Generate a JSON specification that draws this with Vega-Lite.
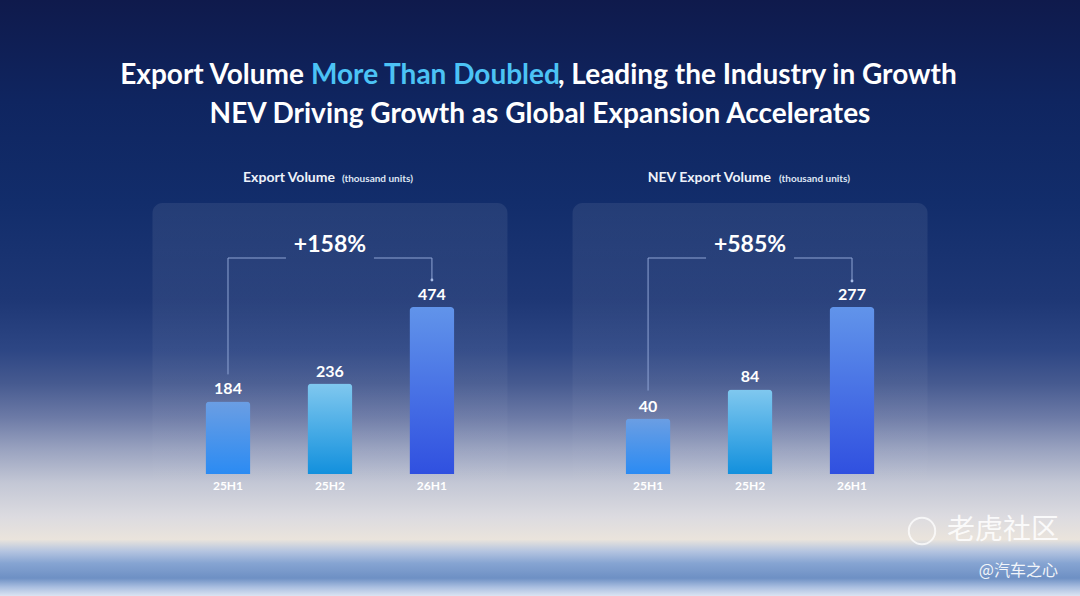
{
  "$schema": "https://vega.github.io/schema/vega-lite/v6.json",
  "width": 1080,
  "height": 596,
  "autosize": {"type": "none"},
  "padding": 0,
  "background": "#0f1a4c",
  "config": {
    "view": {"stroke": null},
    "font": "Lato",
    "text": {"font": "Lato"}
  },
  "datasets": {
    "volumes": [
      {"chart": "Export Volume", "period": "25H1", "value": 184, "growth": null},
      {"chart": "Export Volume", "period": "25H2", "value": 236, "growth": null},
      {"chart": "Export Volume", "period": "26H1", "value": 474, "growth": "+158%"},
      {"chart": "NEV Export Volume", "period": "25H1", "value": 40, "growth": null},
      {"chart": "NEV Export Volume", "period": "25H2", "value": 84, "growth": null},
      {"chart": "NEV Export Volume", "period": "26H1", "value": 277, "growth": "+585%"}
    ]
  },
  "layer": [
    {
      "data": {"values": [{}]},
      "mark": {
        "type": "rect",
        "fill": {
          "gradient": "linear", "x1": 0, "y1": 0, "x2": 0, "y2": 1,
          "stops": [
            {"offset": 0, "color": "#0f1a4c"},
            {"offset": 0.17, "color": "#0f2560"},
            {"offset": 0.34, "color": "#122d6b"},
            {"offset": 0.503, "color": "#1e3775"},
            {"offset": 0.587, "color": "#2d4684"},
            {"offset": 0.643, "color": "#465a90"},
            {"offset": 0.7, "color": "#6c7aa6"},
            {"offset": 0.755, "color": "#9aa3c0"},
            {"offset": 0.81, "color": "#c3c7d5"},
            {"offset": 0.867, "color": "#dcdbe0"},
            {"offset": 0.905, "color": "#eae4dc"},
            {"offset": 0.925, "color": "#b4c4e0"},
            {"offset": 0.945, "color": "#86a4d2"},
            {"offset": 0.97, "color": "#6e90c4"},
            {"offset": 0.985, "color": "#a9bee0"},
            {"offset": 1, "color": "#dbe4f2"}
          ]
        }
      },
      "encoding": {}
    },
    {
      "data": {"values": [{}]},
      "layer": [
        {
          "mark": {"type": "text", "text": "Export Volume", "align": "right", "baseline": "alphabetic", "x": {"expr": "width / 2"}, "dx": -236, "y": 84, "fontSize": 28, "fontWeight": "bold", "fill": "#ffffff"},
          "encoding": {}
        },
        {
          "mark": {"type": "text", "text": "More Than Doubled", "align": "left", "baseline": "alphabetic", "x": {"expr": "width / 2"}, "dx": -229, "y": 84, "fontSize": 28, "fontWeight": "bold", "fill": "#4cc3f5"},
          "encoding": {}
        },
        {
          "mark": {"type": "text", "text": ", Leading the Industry in Growth", "align": "left", "baseline": "alphabetic", "x": {"expr": "width / 2"}, "dx": 18, "y": 84, "fontSize": 28, "fontWeight": "bold", "fill": "#ffffff"},
          "encoding": {}
        },
        {
          "mark": {"type": "text", "text": "NEV Driving Growth as Global Expansion Accelerates", "align": "center", "baseline": "alphabetic", "x": {"expr": "width / 2"}, "y": 123, "fontSize": 28, "fontWeight": "bold", "fill": "#ffffff"},
          "encoding": {}
        }
      ]
    },
    {
      "data": {"name": "volumes"},
      "transform": [
        {"filter": "datum.chart === 'Export Volume'"},
        {"joinaggregate": [{"op": "max", "field": "value", "as": "peak"}]}
      ],
      "encoding": {
        "x": {
          "field": "chart", "type": "nominal", "axis": null,
          "scale": {"domain": ["Export Volume", "NEV Export Volume"], "paddingInner": 0.155, "paddingOuter": 0.363}
        }
      },
      "layer": [
        {
          "transform": [{"filter": "datum.period === '26H1'"}],
          "mark": {
            "type": "rect", "cornerRadius": 10, "yOffset": -104, "y2Offset": 30,
            "fill": {
              "gradient": "linear", "x1": 0, "y1": 0, "x2": 0, "y2": 1,
              "stops": [
                {"offset": 0, "color": "rgba(255,255,255,0.08)"},
                {"offset": 0.6, "color": "rgba(255,255,255,0.04)"},
                {"offset": 1, "color": "rgba(255,255,255,0)"}
              ]
            }
          },
          "encoding": {
            "y": {"field": "peak", "type": "quantitative", "axis": null, "scale": {"type": "pow", "exponent": 0.88, "zero": true, "nice": false, "range": [474, 307]}},
            "y2": {"datum": 0}
          }
        },
        {
          "mark": {"type": "bar", "cornerRadiusTopLeft": 4, "cornerRadiusTopRight": 4},
          "encoding": {
            "xOffset": {"field": "period", "type": "nominal", "scale": {"domain": ["25H1", "25H2", "26H1"], "paddingInner": 0.559, "paddingOuter": 0.52}},
            "y": {"field": "value", "type": "quantitative", "axis": null},
            "fill": {
              "condition": [
                {"test": "datum.period === '25H2'", "value": {"gradient": "linear", "x1": 0, "y1": 0, "x2": 0, "y2": 1, "stops": [{"offset": 0, "color": "#80c8ef"}, {"offset": 1, "color": "#1290dd"}]}},
                {"test": "datum.period === '26H1'", "value": {"gradient": "linear", "x1": 0, "y1": 0, "x2": 0, "y2": 1, "stops": [{"offset": 0, "color": "#6194ea"}, {"offset": 1, "color": "#3050e0"}]}}
              ],
              "value": {"gradient": "linear", "x1": 0, "y1": 0, "x2": 0, "y2": 1, "stops": [{"offset": 0, "color": "#6b9ee3"}, {"offset": 1, "color": "#2b8bf3"}]}
            }
          }
        },
        {
          "mark": {"type": "text", "baseline": "alphabetic", "dy": -7, "fontSize": 16, "fontWeight": "bold", "fill": "#ffffff"},
          "encoding": {
            "xOffset": {"field": "period", "type": "nominal"},
            "y": {"field": "value", "type": "quantitative"},
            "text": {"field": "value", "type": "quantitative"}
          }
        },
        {
          "mark": {"type": "text", "baseline": "alphabetic", "dy": 16, "fontSize": 12, "fontWeight": "bold", "fill": "#ffffff"},
          "encoding": {
            "xOffset": {"field": "period", "type": "nominal"},
            "y": {"datum": 0},
            "text": {"field": "period", "type": "nominal"}
          }
        },
        {
          "transform": [{"filter": "datum.period === '25H1'"}],
          "mark": {"type": "rule", "color": "#8ea4d4", "strokeWidth": 1, "yOffset": -27, "y2Offset": -49},
          "encoding": {
            "xOffset": {"field": "period", "type": "nominal"},
            "y": {"field": "value", "type": "quantitative"},
            "y2": {"field": "peak"}
          }
        },
        {
          "transform": [{"filter": "datum.period === '25H1'"}],
          "mark": {"type": "rule", "color": "#8ea4d4", "strokeWidth": 1, "yOffset": -49, "x2Offset": -44},
          "encoding": {
            "xOffset": {"field": "period", "type": "nominal"},
            "x2": {"field": "chart"},
            "y": {"field": "peak", "type": "quantitative"}
          }
        },
        {
          "transform": [{"filter": "datum.period === '26H1'"}],
          "mark": {"type": "rule", "color": "#8ea4d4", "strokeWidth": 1, "yOffset": -49, "x2Offset": 44},
          "encoding": {
            "xOffset": {"field": "period", "type": "nominal"},
            "x2": {"field": "chart"},
            "y": {"field": "peak", "type": "quantitative"}
          }
        },
        {
          "transform": [{"filter": "datum.period === '26H1'"}],
          "mark": {"type": "rule", "color": "#8ea4d4", "strokeWidth": 1, "yOffset": -49, "y2Offset": -27},
          "encoding": {
            "xOffset": {"field": "period", "type": "nominal"},
            "y": {"field": "peak", "type": "quantitative"},
            "y2": {"field": "peak"}
          }
        },
        {
          "transform": [{"filter": "datum.period === '26H1'"}],
          "mark": {"type": "point", "shape": "circle", "filled": true, "size": 8, "opacity": 1, "color": "#a9bde6", "yOffset": -27},
          "encoding": {
            "xOffset": {"field": "period", "type": "nominal"},
            "y": {"field": "peak", "type": "quantitative"}
          }
        },
        {
          "transform": [{"filter": "datum.period === '26H1'"}],
          "mark": {"type": "text", "baseline": "alphabetic", "dy": -55, "fontSize": 23, "fontWeight": "bold", "fill": "#ffffff"},
          "encoding": {
            "y": {"field": "peak", "type": "quantitative"},
            "text": {"field": "growth", "type": "nominal"}
          }
        },
        {
          "transform": [{"filter": "datum.period === '26H1'"}],
          "mark": {"type": "text", "align": "right", "baseline": "alphabetic", "dx": 5, "dy": -125, "fontSize": 14, "fontWeight": "bold", "fill": "#eef2fa"},
          "encoding": {
            "y": {"field": "peak", "type": "quantitative"},
            "text": {"field": "chart", "type": "nominal"}
          }
        },
        {
          "transform": [{"filter": "datum.period === '26H1'"}],
          "mark": {"type": "text", "text": "(thousand units)", "align": "left", "baseline": "alphabetic", "dx": 12, "dy": -125, "fontSize": 10, "fontWeight": "bold", "fill": "#dfe6f4"},
          "encoding": {
            "y": {"field": "peak", "type": "quantitative"}
          }
        }
      ]
    },
    {
      "data": {"name": "volumes"},
      "transform": [
        {"filter": "datum.chart === 'NEV Export Volume'"},
        {"joinaggregate": [{"op": "max", "field": "value", "as": "peak"}]}
      ],
      "encoding": {
        "x": {
          "field": "chart", "type": "nominal", "axis": null,
          "scale": {"domain": ["Export Volume", "NEV Export Volume"], "paddingInner": 0.155, "paddingOuter": 0.363}
        }
      },
      "layer": [
        {
          "transform": [{"filter": "datum.period === '26H1'"}],
          "mark": {
            "type": "rect", "cornerRadius": 10, "yOffset": -104, "y2Offset": 30,
            "fill": {
              "gradient": "linear", "x1": 0, "y1": 0, "x2": 0, "y2": 1,
              "stops": [
                {"offset": 0, "color": "rgba(255,255,255,0.08)"},
                {"offset": 0.6, "color": "rgba(255,255,255,0.04)"},
                {"offset": 1, "color": "rgba(255,255,255,0)"}
              ]
            }
          },
          "encoding": {
            "y": {"field": "peak", "type": "quantitative", "axis": null, "scale": {"type": "pow", "exponent": 0.57, "zero": true, "nice": false, "range": [474, 307]}},
            "y2": {"datum": 0}
          }
        },
        {
          "mark": {"type": "bar", "cornerRadiusTopLeft": 4, "cornerRadiusTopRight": 4},
          "encoding": {
            "xOffset": {"field": "period", "type": "nominal", "scale": {"domain": ["25H1", "25H2", "26H1"], "paddingInner": 0.559, "paddingOuter": 0.52}},
            "y": {"field": "value", "type": "quantitative", "axis": null},
            "fill": {
              "condition": [
                {"test": "datum.period === '25H2'", "value": {"gradient": "linear", "x1": 0, "y1": 0, "x2": 0, "y2": 1, "stops": [{"offset": 0, "color": "#80c8ef"}, {"offset": 1, "color": "#1290dd"}]}},
                {"test": "datum.period === '26H1'", "value": {"gradient": "linear", "x1": 0, "y1": 0, "x2": 0, "y2": 1, "stops": [{"offset": 0, "color": "#6194ea"}, {"offset": 1, "color": "#3050e0"}]}}
              ],
              "value": {"gradient": "linear", "x1": 0, "y1": 0, "x2": 0, "y2": 1, "stops": [{"offset": 0, "color": "#6b9ee3"}, {"offset": 1, "color": "#2b8bf3"}]}
            }
          }
        },
        {
          "mark": {"type": "text", "baseline": "alphabetic", "dy": -7, "fontSize": 16, "fontWeight": "bold", "fill": "#ffffff"},
          "encoding": {
            "xOffset": {"field": "period", "type": "nominal"},
            "y": {"field": "value", "type": "quantitative"},
            "text": {"field": "value", "type": "quantitative"}
          }
        },
        {
          "mark": {"type": "text", "baseline": "alphabetic", "dy": 16, "fontSize": 12, "fontWeight": "bold", "fill": "#ffffff"},
          "encoding": {
            "xOffset": {"field": "period", "type": "nominal"},
            "y": {"datum": 0},
            "text": {"field": "period", "type": "nominal"}
          }
        },
        {
          "transform": [{"filter": "datum.period === '25H1'"}],
          "mark": {"type": "rule", "color": "#8ea4d4", "strokeWidth": 1, "yOffset": -28, "y2Offset": -49},
          "encoding": {
            "xOffset": {"field": "period", "type": "nominal"},
            "y": {"field": "value", "type": "quantitative"},
            "y2": {"field": "peak"}
          }
        },
        {
          "transform": [{"filter": "datum.period === '25H1'"}],
          "mark": {"type": "rule", "color": "#8ea4d4", "strokeWidth": 1, "yOffset": -49, "x2Offset": -44},
          "encoding": {
            "xOffset": {"field": "period", "type": "nominal"},
            "x2": {"field": "chart"},
            "y": {"field": "peak", "type": "quantitative"}
          }
        },
        {
          "transform": [{"filter": "datum.period === '26H1'"}],
          "mark": {"type": "rule", "color": "#8ea4d4", "strokeWidth": 1, "yOffset": -49, "x2Offset": 44},
          "encoding": {
            "xOffset": {"field": "period", "type": "nominal"},
            "x2": {"field": "chart"},
            "y": {"field": "peak", "type": "quantitative"}
          }
        },
        {
          "transform": [{"filter": "datum.period === '26H1'"}],
          "mark": {"type": "rule", "color": "#8ea4d4", "strokeWidth": 1, "yOffset": -49, "y2Offset": -26},
          "encoding": {
            "xOffset": {"field": "period", "type": "nominal"},
            "y": {"field": "peak", "type": "quantitative"},
            "y2": {"field": "peak"}
          }
        },
        {
          "transform": [{"filter": "datum.period === '26H1'"}],
          "mark": {"type": "point", "shape": "circle", "filled": true, "size": 8, "opacity": 1, "color": "#a9bde6", "yOffset": -26},
          "encoding": {
            "xOffset": {"field": "period", "type": "nominal"},
            "y": {"field": "peak", "type": "quantitative"}
          }
        },
        {
          "transform": [{"filter": "datum.period === '26H1'"}],
          "mark": {"type": "text", "baseline": "alphabetic", "dy": -55, "fontSize": 23, "fontWeight": "bold", "fill": "#ffffff"},
          "encoding": {
            "y": {"field": "peak", "type": "quantitative"},
            "text": {"field": "growth", "type": "nominal"}
          }
        },
        {
          "transform": [{"filter": "datum.period === '26H1'"}],
          "mark": {"type": "text", "align": "right", "baseline": "alphabetic", "dx": 21, "dy": -125, "fontSize": 14, "fontWeight": "bold", "fill": "#eef2fa"},
          "encoding": {
            "y": {"field": "peak", "type": "quantitative"},
            "text": {"field": "chart", "type": "nominal"}
          }
        },
        {
          "transform": [{"filter": "datum.period === '26H1'"}],
          "mark": {"type": "text", "text": "(thousand units)", "align": "left", "baseline": "alphabetic", "dx": 29, "dy": -125, "fontSize": 10, "fontWeight": "bold", "fill": "#dfe6f4"},
          "encoding": {
            "y": {"field": "peak", "type": "quantitative"}
          }
        }
      ]
    },
    {
      "data": {"values": [{}]},
      "layer": [
        {
          "mark": {"type": "point", "shape": "circle", "filled": false, "size": 700, "strokeWidth": 2, "color": "#ffffff", "opacity": 0.75, "x": 922, "y": 531},
          "encoding": {}
        },
        {
          "mark": {"type": "text", "text": "老虎社区", "font": "Noto Sans CJK SC", "align": "left", "baseline": "middle", "x": 947, "y": 531, "fontSize": 28, "fill": "#ffffff", "opacity": 0.85},
          "encoding": {}
        },
        {
          "mark": {"type": "text", "text": "@汽车之心", "font": "Noto Sans CJK SC", "align": "right", "baseline": "middle", "x": 1058, "y": 571, "fontSize": 16, "fill": "#ffffff", "opacity": 0.9},
          "encoding": {}
        }
      ]
    }
  ],
  "resolve": {"scale": {"y": "independent"}}
}
